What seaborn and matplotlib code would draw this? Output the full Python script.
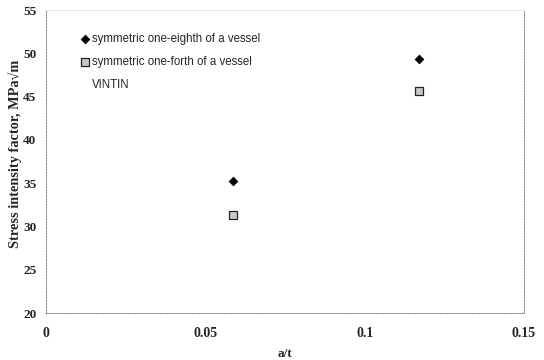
import numpy as np
import pandas as pd
import matplotlib
matplotlib.use("Agg")
import matplotlib.pyplot as plt
import seaborn as sns

# values
a_t = [0.0585, 0.117]
eighth_vals = [35.3, 49.4]
forth_vals = [31.3, 45.7]
series_names = ["symmetric one-eighth of a vessel",
                "symmetric one-forth of a vessel",
                "VINTIN"]
x_ticks = [0, 0.05, 0.1, 0.15]
x_tick_labels = ["0", "0.05", "0.1", "0.15"]
y_ticks = [20, 25, 30, 35, 40, 45, 50, 55]

sns.set_theme(style="white")
plt.rcParams['font.family'] = ['Liberation Serif', 'DejaVu Serif']

fig = plt.figure(figsize=(5.44, 3.6), dpi=100)
ax = fig.add_axes([0.085, 0.13, 0.878, 0.842])

df_eighth = pd.DataFrame({"a_t": a_t, "K": eighth_vals})
df_forth = pd.DataFrame({"a_t": a_t, "K": forth_vals})

sns.scatterplot(data=df_eighth, x="a_t", y="K", ax=ax, marker="D", s=20,
                color="black", edgecolor="black", linewidth=0.5,
                label=series_names[0])
sns.scatterplot(data=df_forth, x="a_t", y="K", ax=ax, marker="s", s=26,
                color="#c8c8c8", edgecolor="#222222", linewidth=0.9,
                label=series_names[1])
# VINTIN has no visible marker in the source
ax.plot([], [], linestyle="none", marker="None", label=series_names[2])

ax.set_xlim(0, 0.15)
ax.set_ylim(20, 55)
ax.set_xticks(x_ticks)
ax.set_xticklabels(x_tick_labels)
ax.set_yticks(y_ticks)
ax.tick_params(axis="x", length=0, labelsize=10, pad=10)
ax.tick_params(axis="y", length=0, labelsize=9.5, pad=7)
for lab in ax.get_xticklabels() + ax.get_yticklabels():
    lab.set_fontweight("bold")

ax.set_xlabel("a/t", fontsize=9.5, fontweight="bold", labelpad=6)
ax.set_ylabel("Stress intensity factor, MPa\u221am", fontsize=10.3,
              fontweight="bold")
ax.yaxis.set_label_coords(-0.05, 0.525)

for side in ["left", "right", "top", "bottom"]:
    ax.spines[side].set_linestyle((0, (2, 1.5)))
    ax.spines[side].set_linewidth(0.6)
    ax.spines[side].set_color("#777777")
ax.spines["top"].set_color("#e0e0e0")

ax.legend(loc="upper left", bbox_to_anchor=(0.06, 0.94), frameon=False,
          prop={"family": "Liberation Sans", "size": 8.3},
          handletextpad=0.05, handlelength=1.0, labelspacing=0.95,
          borderaxespad=0)

fig.savefig("out.png", dpi=100)
